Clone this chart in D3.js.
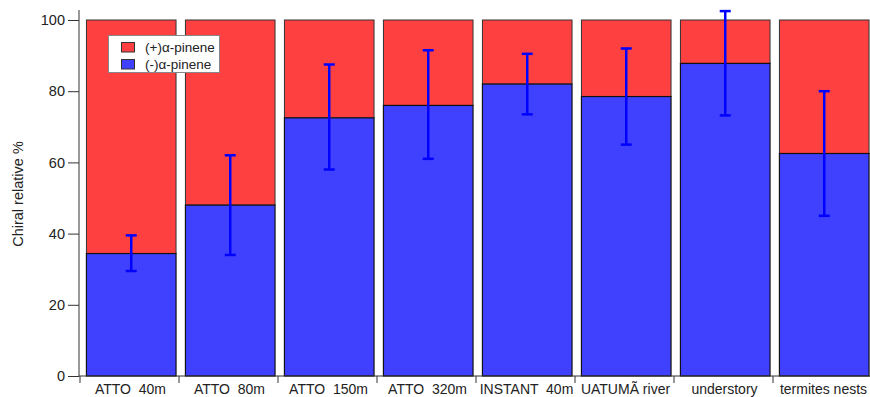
<!DOCTYPE html>
<html><head><meta charset="utf-8">
<script src="https://cdn.jsdelivr.net/npm/d3@7"></script>
<style>
body{margin:0;background:#fff;}
text{font-family:"Liberation Sans",Arial,sans-serif;}
</style></head>
<body><svg id="c" width="870" height="397"></svg>
<script>
const categories = ["ATTO  40m","ATTO  80m","ATTO  150m","ATTO  320m","INSTANT  40m","UATUMÃ river","understory","termites nests"];
const minusPinene = [34.4, 48.0, 72.5, 76.0, 82.0, 78.5, 87.8, 62.5];
const errLow = [29.5, 34.0, 58.0, 61.0, 73.5, 65.0, 73.2, 45.0];
const errHigh = [39.5, 62.0, 87.5, 91.5, 90.5, 92.0, 102.5, 80.0];
const yTicks = [0, 20, 40, 60, 80, 100];
const seriesNames = ["(+)α-pinene", "(-)α-pinene"];
const colors = ["#ff4040", "#4040ff"];

const svg = d3.select("#c");
const x = d3.scaleBand().domain(categories).range([80, 872]).padding(0);
const y = d3.scaleLinear().domain([0, 100]).range([376, 20]);
const bw = x.bandwidth();
const off = bw * 0.065, w = bw * 0.905;

const data = categories.map((c, i) => ({c, m: minusPinene[i], lo: errLow[i], hi: errHigh[i]}));

svg.selectAll("rect.plus").data(data).enter().append("rect")
  .attr("x", d => x(d.c) + off).attr("width", w)
  .attr("y", y(100)).attr("height", d => y(d.m) - y(100))
  .attr("fill", colors[0]).attr("stroke", "#333").attr("stroke-width", 1);
svg.selectAll("rect.minus").data(data).enter().append("rect")
  .attr("x", d => x(d.c) + off).attr("width", w)
  .attr("y", d => y(d.m)).attr("height", d => y(0) - y(d.m))
  .attr("fill", colors[1]).attr("stroke", "#111").attr("stroke-width", 1.2);

const eb = svg.append("g").attr("stroke", "#0000ff").attr("stroke-width", 2.5);
data.forEach(d => {
  const cx = x(d.c) + off + w / 2;
  eb.append("line").attr("x1", cx).attr("x2", cx).attr("y1", y(d.lo)).attr("y2", y(d.hi));
  eb.append("line").attr("x1", cx - 5.5).attr("x2", cx + 5.5).attr("y1", y(d.lo)).attr("y2", y(d.lo));
  eb.append("line").attr("x1", cx - 5.5).attr("x2", cx + 5.5).attr("y1", y(d.hi)).attr("y2", y(d.hi));
});

const ya = svg.append("g").attr("transform", "translate(79,0)")
  .call(d3.axisLeft(y).tickValues(yTicks).tickSize(11).tickPadding(3));
ya.select(".domain").attr("d", "M0,10V376").attr("stroke", "#333");
ya.selectAll(".tick line").attr("stroke", "#333");
ya.selectAll("text").attr("font-size", 14.5).attr("fill", "#222").attr("font-family", "Liberation Sans, Arial, sans-serif");

const xa = svg.append("g").attr("transform", "translate(0,376)");
xa.append("line").attr("x1", 79).attr("x2", 872).attr("y1", 0).attr("y2", 0).attr("stroke", "#333");
xa.selectAll("line.t").data(categories).enter().append("line")
  .attr("x1", d => x(d)).attr("x2", d => x(d)).attr("y1", 0).attr("y2", 7).attr("stroke", "#333");
xa.selectAll("text").data(categories).enter().append("text")
  .attr("x", d => x(d) + bw / 2 + 1).attr("y", 18)
  .attr("text-anchor", "middle").attr("font-size", 14).attr("fill", "#222")
  .style("white-space", "pre").text(d => d);

svg.append("text").attr("transform", "translate(23,194) rotate(-90)")
  .attr("text-anchor", "middle").attr("font-size", 14.5).attr("fill", "#222").text("Chiral relative %");

const lg = svg.append("g");
lg.append("rect").attr("x", 108.5).attr("y", 35.5).attr("width", 111).attr("height", 37)
  .attr("fill", "#fff").attr("stroke", "#888").attr("stroke-width", 1);
seriesNames.forEach((n, i) => {
  lg.append("rect").attr("x", 121.5).attr("y", 42.5 + i * 17).attr("width", 13).attr("height", 9.5)
    .attr("fill", colors[i]).attr("stroke", "#333");
  lg.append("text").attr("x", 145).attr("y", 51.5 + i * 17).attr("font-size", 13.5).attr("fill", "#222").text(n);
});
</script></body></html>
